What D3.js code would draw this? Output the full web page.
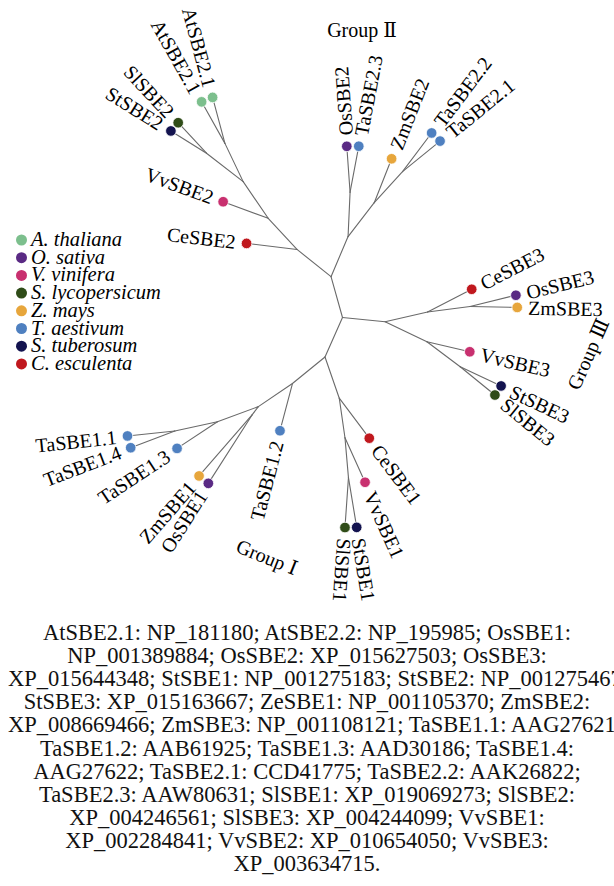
<!DOCTYPE html>
<html><head><meta charset="utf-8">
<script src="https://cdn.jsdelivr.net/npm/d3@7"></script>
<style>body{margin:0;background:#fff}svg{display:block}</style>
</head><body>
<svg id="c" width="614" height="886"></svg>
<script>
// ---- Tree topology (unrooted radial layout) ----
const nodeIds = ["A","B","C","C1","OsSBE2","TaSBE2.3","C2","ZmSBE2","C3","TaSBE2.2","TaSBE2.1",
  "D1","CeSBE2","D2","VvSBE2","D3","D4","AtSBE2.1a","AtSBE2.1b","D5","SlSBE2","StSBE2",
  "E0","E1","CeSBE3","E2","OsSBE3","ZmSBE3","E3","VvSBE3","E4","StSBE3","SlSBE3",
  "F0","F1","TaSBE1.2","F2","F3","TaSBE1.3","F4","TaSBE1.1","TaSBE1.4","F5","ZmSBE1","OsSBE1",
  "G1","CeSBE1","G2","VvSBE1","G3","SlSBE1","StSBE1"];
const parentIds = [null,"A","B","C","C1","C1","C","C2","C2","C3","C3",
  "B","D1","D1","D2","D2","D3","D4","D4","D3","D5","D5",
  "A","E0","E1","E1","E2","E2","E0","E3","E3","E4","E4",
  "A","F0","F1","F1","F2","F3","F3","F4","F4","F2","F5","F5",
  "F0","G1","G1","G2","G2","G3","G3"];
const branchLengths = [0,0.106,0.109,0.111,0.115,0.117,0.107,0.118,0.105,0.121,0.121,
  0.109,0.127,0.106,0.120,0.111,0.106,0.119,0.119,0.116,0.104,0.105,
  0.107,0.109,0.124,0.107,0.118,0.118,0.116,0.110,0.104,0.113,0.112,
  0.108,0.105,0.122,0.103,0.109,0.121,0.109,0.119,0.118,0.026,0.202,0.203,
  0.109,0.125,0.100,0.122,0.100,0.125,0.126];
const branchAngles = [0,-105.7,-67.0,-87.4,-94.1,-79.3,-52.3,-68.4,-47.7,-53.0,-39.1,
  -141.3,-173.2,-132.8,-159.8,-124.3,-115.5,-119.3,-105.0,-142.2,-132.9,-148.0,
  5.6,-12.9,-27.2,-7.4,-13.7,1.2,25.6,13.2,36.9,25.2,39.2,
  113.9,140.8,104.8,145.9,159.8,146.5,167.7,174.0,159.2,127.0,131.0,122.6,
  70.9,53.1,81.8,65.7,85.0,94.0,80.6];

// ---- Leaves ----
const leafIds = ["OsSBE2","TaSBE2.3","ZmSBE2","TaSBE2.2","TaSBE2.1","CeSBE2","VvSBE2","AtSBE2.1a","AtSBE2.1b",
  "SlSBE2","StSBE2","CeSBE3","OsSBE3","ZmSBE3","VvSBE3","StSBE3","SlSBE3","TaSBE1.2","TaSBE1.3",
  "TaSBE1.1","TaSBE1.4","ZmSBE1","OsSBE1","CeSBE1","VvSBE1","SlSBE1","StSBE1"];
const leafLabels = ["OsSBE2","TaSBE2.3","ZmSBE2","TaSBE2.2","TaSBE2.1","CeSBE2","VvSBE2","AtSBE2.1","AtSBE2.1",
  "SlSBE2","StSBE2","CeSBE3","OsSBE3","ZmSBE3","VvSBE3","StSBE3","SlSBE3","TaSBE1.2","TaSBE1.3",
  "TaSBE1.1","TaSBE1.4","ZmSBE1","OsSBE1","CeSBE1","VvSBE1","SlSBE1","StSBE1"];

// ---- Species legend ----
const speciesCodes = ["At","Os","Vv","Sl","Zm","Ta","St","Ce"];
const speciesNames = ["A. thaliana","O. sativa","V. vinifera","S. lycopersicum","Z. mays","T. aestivum","S. tuberosum","C. esculenta"];
const speciesColors = ["#7cbf8d","#5a2a84","#c8306f","#2f4c18","#e7a63c","#4f80c0","#13134f","#c0181e"];

// ---- Group labels ----
const groupLabels = ["Group Ⅰ","Group Ⅱ","Group Ⅲ"];

// ---- Caption ----
const captionLines = [
  "AtSBE2.1: NP_181180; AtSBE2.2: NP_195985; OsSBE1:",
  "NP_001389884; OsSBE2: XP_015627503; OsSBE3:",
  "XP_015644348; StSBE1: NP_001275183; StSBE2: NP_001275467;",
  "StSBE3: XP_015163667; ZeSBE1: NP_001105370; ZmSBE2:",
  "XP_008669466; ZmSBE3: NP_001108121; TaSBE1.1: AAG27621;",
  "TaSBE1.2: AAB61925; TaSBE1.3: AAD30186; TaSBE1.4:",
  "AAG27622; TaSBE2.1: CCD41775; TaSBE2.2: AAK26822;",
  "TaSBE2.3: AAW80631; SlSBE1: XP_019069273; SlSBE2:",
  "XP_004246561; SlSBE3: XP_004244099; VvSBE1:",
  "XP_002284841; VvSBE2: XP_010654050; VvSBE3:",
  "XP_003634715."
];

// ================= drawing =================
const W = 614, H = 886;
const svg = d3.select("#c");
const serif = "'Liberation Serif','Times New Roman',Times,'DejaVu Serif',serif";
const lenScale = d3.scaleLinear().domain([0, 0.1]).range([0, 40]);
const colorScale = d3.scaleOrdinal().domain(speciesCodes).range(speciesColors);
const rootX = 342.5, rootY = 317.5;

const pos = new Map();
nodeIds.forEach((id, i) => {
  const p = parentIds[i];
  if (p === null) { pos.set(id, {x: rootX, y: rootY}); return; }
  const pp = pos.get(p);
  const r = lenScale(branchLengths[i]);
  const a = branchAngles[i] * Math.PI / 180;
  pos.set(id, {x: pp.x + r * Math.cos(a), y: pp.y + r * Math.sin(a), angle: branchAngles[i]});
});

const links = nodeIds.map((id, i) => ({id, parent: parentIds[i]})).filter(d => d.parent !== null);
svg.append("g").selectAll("line").data(links).join("line")
  .attr("x1", d => pos.get(d.parent).x).attr("y1", d => pos.get(d.parent).y)
  .attr("x2", d => pos.get(d.id).x).attr("y2", d => pos.get(d.id).y)
  .attr("stroke", "#6a6a6a").attr("stroke-width", 1.1).attr("stroke-linecap", "round");

const leaves = leafIds.map((id, i) => ({id, label: leafLabels[i], sp: leafLabels[i].slice(0, 2), ...pos.get(id)}));

svg.append("g").selectAll("circle").data(leaves).join("circle")
  .attr("cx", d => d.x).attr("cy", d => d.y).attr("r", 5.3)
  .attr("fill", d => colorScale(d.sp)).attr("stroke", "#fff").attr("stroke-width", 0.8);

const off = 11;
svg.append("g").selectAll("text").data(leaves).join("text")
  .each(function(d) {
    const a = d.angle * Math.PI / 180;
    const flip = Math.cos(a) < -0.1;
    const x = d.x + off * Math.cos(a), y = d.y + off * Math.sin(a);
    d3.select(this).attr("x", x).attr("y", y)
      .attr("transform", `rotate(${flip ? d.angle + 180 : d.angle},${x},${y})`)
      .attr("text-anchor", flip ? "end" : "start");
  })
  .attr("dy", "0.35em")
  .attr("font-family", serif).attr("font-size", 20).attr("fill", "#000")
  .text(d => d.label);

// group labels
const gl = [
  {t: groupLabels[0], x: 267, y: 557, r: 22},
  {t: groupLabels[1], x: 362, y: 30, r: 0},
  {t: groupLabels[2], x: 588, y: 354, r: -66}
];
svg.append("g").selectAll("text").data(gl).join("text")
  .attr("x", d => d.x).attr("y", d => d.y).attr("dy", "0.35em")
  .attr("transform", d => `rotate(${d.r},${d.x},${d.y})`)
  .attr("text-anchor", "middle")
  .attr("font-family", serif).attr("font-size", 20).text(d => d.t);

// legend
const lg = svg.append("g");
speciesNames.forEach((n, i) => {
  const y = 240 + i * 17.7;
  lg.append("circle").attr("cx", 21.5).attr("cy", y).attr("r", 5.5).attr("fill", speciesColors[i]);
  lg.append("text").attr("x", 31).attr("y", y + 6)
    .attr("font-family", serif).attr("font-style", "italic").attr("font-size", 20.5).text(n);
});

// caption
const cap = svg.append("g");
captionLines.forEach((line, i) => {
  const t = cap.append("text").attr("y", 640 + i * 23.1)
    .attr("font-family", serif).attr("font-size", 22.5).attr("fill", "#111").text(line);
  const w = t.node().getComputedTextLength();
  if (w > W - 16) t.attr("x", 8).attr("text-anchor", "start");
  else t.attr("x", W / 2).attr("text-anchor", "middle");
});
</script>
</body></html>
